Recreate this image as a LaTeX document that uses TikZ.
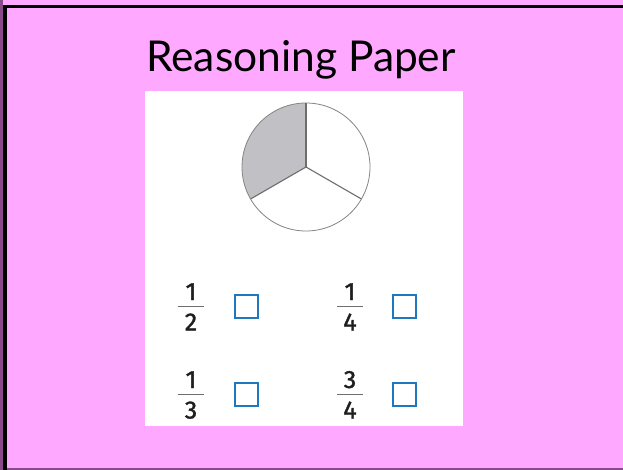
\documentclass[tikz,border=0pt]{standalone}
\usepackage{fontspec}
\setmainfont{Fira Sans}
\newfontfamily\titleFont{Lato}
\newfontfamily\digitFont[FakeBold=1.4]{Fira Sans}
\usetikzlibrary{calc}
\definecolor{pinkBack}{HTML}{FFA8FF}
\definecolor{edgePurple}{HTML}{8A4A8A}
\definecolor{boxBlue}{HTML}{1F77C0}
\definecolor{pieGrey}{HTML}{C1C1C5}
\definecolor{lineGrey}{HTML}{6E6E6E}
\definecolor{digitBlack}{HTML}{1E1E1E}

\begin{document}
\begin{tikzpicture}[x=1pt,y=-1pt,
  digit/.style={font=\digitFont\fontsize{25}{26}\selectfont,text=digitBlack,inner sep=0pt,anchor=base},
  tickbox/.style={draw=boxBlue,line width=2pt,minimum size=23pt,inner sep=0pt}]
\useasboundingbox (0,0) rectangle (623,470);
% page background and frame
\fill[pinkBack] (-5,-5) rectangle (630,475);
\fill[edgePurple] (-5,-5) rectangle (3,475);
\fill[edgePurple] (-5,467.5) rectangle (630,475);
\draw[line width=3.5pt] (5,475) -- (5,6.5) -- (630,6.5);
\fill[white] (145,91) rectangle (463,426);
\node[anchor=base,inner sep=0pt,font=\titleFont\fontsize{42.5}{46}\selectfont] (title) at (301,72) {Reasoning Paper};
% pie in thirds, one third shaded
\coordinate (pieCentre) at (306,167);
\fill[pieGrey] (pieCentre) -- ++(-90:64) arc[start angle=-90,end angle=-210,radius=64] -- cycle;
\draw[lineGrey!85,line width=0.8pt] (pieCentre) circle[radius=64];
\foreach \a in {-90,-210,-330}{
  \draw[lineGrey,line width=1.1pt] (pieCentre) -- ++(\a:64);
}
% fractions with answer boxes
\foreach \fx/\fy/\num/\den/\bx/\tag in {191/306.5/1/2/246.5/half,350/306.5/1/4/404.5/quarter,191/394.5/1/3/246.5/third,350/394.5/3/4/404.5/threequarters}{
  \node[digit] (num-\tag) at (\fx,\fy-6.5) {\num};
  \node[digit] (den-\tag) at (\fx,\fy+24) {\den};
  \draw[lineGrey,line width=1.4pt] ($(num-\tag.base)+(-13,6.5)$) -- ++(26,0);
  \node[tickbox] (box-\tag) at (\bx,\fy) {};
}
\end{tikzpicture}
\end{document}
